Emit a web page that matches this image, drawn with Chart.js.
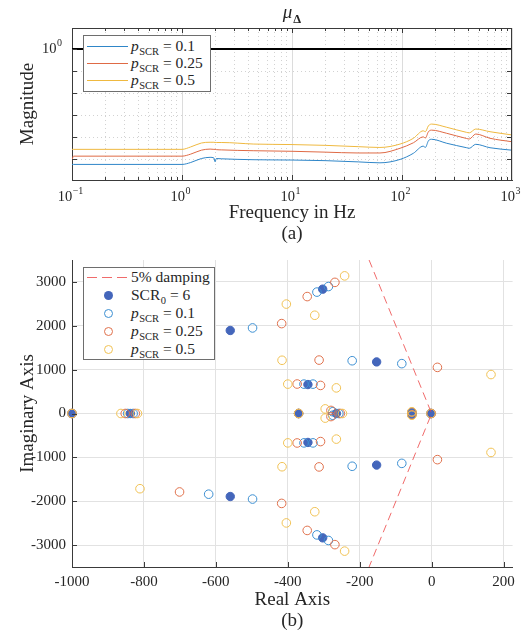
<!DOCTYPE html>
<html>
<head>
<meta charset="utf-8">
<script src="https://cdn.jsdelivr.net/npm/chart.js@4.4.1/dist/chart.umd.min.js"></script>
<style>
html,body{margin:0;padding:0;background:#fff}
body{position:relative;width:521px;height:634px;overflow:hidden;font-family:"Liberation Serif","DejaVu Serif",serif;color:#262626}
canvas{position:absolute;left:0}
#c1{top:0}
#c2{top:245px}
.legend{position:absolute;background:#fff;border:1px solid #6e6e6e;box-sizing:border-box}
.row{position:absolute;left:0;right:0;height:18px}
.ln{position:absolute;left:3px;width:41px;top:9px;height:1px}
.mk{position:absolute;left:20px;top:4.5px;width:9px;height:9px;border-radius:50%;box-sizing:border-box}
.lbl{position:absolute;left:47px;top:0;line-height:18px;font-size:15.5px;white-space:nowrap}
.sub{font-size:10.5px;position:relative;top:4px;margin-left:0.5px}
#title{position:absolute;left:0;width:584px;top:2px;text-align:center;font-size:19px;line-height:20px}
#title .d{font-weight:bold;font-size:12.5px;position:relative;top:5px;margin-left:1px}
</style>
</head>
<body>
<canvas id="c1" width="521" height="245"></canvas>
<canvas id="c2" width="521" height="389"></canvas>
<div id="title"><i>μ</i><span class="d">Δ</span></div>
<div id="leg1" class="legend" style="left:83px;top:35px;width:128px;height:57px"></div>
<div id="leg2" class="legend" style="left:83px;top:267px;width:132px;height:93px"></div>
<script>
// ===================== (a) structured singular value =====================
const freqHz  = [0.1, 0.103, 1, 1.2, 1.5, 1.8, 1.95, 2.0, 2.05, 2.3, 4.5, 10, 20, 40, 63, 96, 127, 156, 163, 174, 186, 255, 387, 409, 468, 631, 1000];
const muP01   = [0.299,0.299,0.299,0.305,0.318,0.322,0.320,0.307,0.318,0.317,0.314,0.313,0.311,0.307,0.304,0.315,0.336,0.362,0.357,0.383,0.389,0.373,0.356,0.354,0.369,0.356,0.347];
const muP025  = [0.312,0.326,0.326,0.333,0.347,0.351,0.350,0.350,0.349,0.348,0.345,0.343,0.340,0.337,0.337,0.354,0.375,0.399,0.394,0.421,0.428,0.414,0.392,0.390,0.411,0.393,0.379];
const muP05   = [0.350,0.350,0.350,0.359,0.374,0.377,0.377,0.376,0.376,0.376,0.370,0.368,0.365,0.360,0.357,0.370,0.393,0.425,0.421,0.448,0.456,0.441,0.418,0.416,0.433,0.421,0.407];
const limitFreq = [0.1, 1000];
const limitMag  = [1, 1];
const pLabels   = ['0.1', '0.25', '0.5'];
const freqExps  = [-1, 0, 1, 2, 3];
const freqMinorMult = [2, 3, 4, 5, 6, 7, 8, 9];
const magTicks  = [0.316, 0.398, 0.501, 0.631, 0.794, 1];
const magLimits = [0.254, 1.246];

// ===================== (b) pole map =====================
const dampRe = [-174, 0, -174];
const dampIm = [3500, 0, -3500];
const scr0Re = [-1000, -838, -560, -560, -303, -303, -153, -153, -344, -344, -370, -265, -55, -55, -2];
const scr0Im = [0, 0, 1893, -1893, 2835, -2835, 1176, -1176, 660, -660, 0, 0, 15, -15, 0];
const p01Re  = [-1000, -845, -830, -620, -620, -498, -498, -319, -319, -287, -287, -221, -221, -83, -83, -355, -355, -330, -330, -370, -275, -275, -258, -55, -55, -2];
const p01Im  = [0, 0, 0, 1840, -1840, 1951, -1951, 2768, -2768, 2895, -2895, 1203, -1203, 1137, -1137, 670, -670, 670, -670, 0, 40, -40, 0, 20, -20, 0];
const p025Re = [-1000, -852, -824, -701, -701, -417, -417, -346, -346, -269, -269, -313, -313, 16, 16, -374, -374, -309, -309, -370, -280, -280, -254, -55, -55, -1];
const p025Im = [0, 0, 0, 1789, -1789, 2050, -2050, 2666, -2666, 2990, -2990, 1218, -1218, 1052, -1052, 672, -672, 640, -640, 0, 70, -70, 0, 28, -28, 0];
const p05Re  = [-1000, -864, -818, -811, -811, -325, -325, -404, -404, -242, -242, -416, -416, 165, 165, -400, -400, -265, -265, -370, -296, -296, -248, -55, -55, -2];
const p05Im  = [0, 0, 0, 1715, -1715, 2240, -2240, 2495, -2495, 3138, -3138, 1214, -1214, 888, -888, 670, -670, 584, -584, 0, 105, -105, 0, 40, -40, 0];
const reTicks = [-1000, -800, -600, -400, -200, 0, 200];
const imTicks = [-3000, -2000, -1000, 0, 1000, 2000, 3000];
const reLimits = [-1000, 225];
const imLimits = [-3500, 3500];
const dampLabel = '5% damping';
const scr0Value = '6';

// ===================== styling =====================
const FONT = '"Liberation Serif", "DejaVu Serif", serif';
const AXIS = '#3a3a3a', TEXT = '#262626';
const LINE_COLORS = ['#2f86c8', '#df6a45', '#efb940'];
const MARK_COLORS = ['#3c8fd2', '#e0714c', '#f1c254'];
const FILL_COLOR = '#4466bb';
const DAMP_COLOR = 'rgba(236,70,70,0.8)';
const MINOR_GRID = '#d2d2d2', MAJOR_GRID = '#dcdcdc';

const isPow10 = v => Math.abs(Math.log10(v) - Math.round(Math.log10(v))) < 1e-6;
const xy = (xs, ys) => xs.map((x, i) => ({x: x, y: ys[i]}));

// frame / inward tick plugin
const frame = {
  id: 'frame',
  afterDraw(chart, args, o) {
    const {ctx, chartArea: a} = chart;
    const xs = chart.scales.x, ys = chart.scales.y;
    ctx.save();
    ctx.strokeStyle = AXIS; ctx.lineWidth = 1;
    ctx.beginPath();
    if (o.box) {
      ctx.moveTo(a.left, Math.round(a.top) + 0.5); ctx.lineTo(a.right, Math.round(a.top) + 0.5);
      ctx.moveTo(Math.round(a.right) - 0.5, a.top); ctx.lineTo(Math.round(a.right) - 0.5, a.bottom);
    }
    xs.ticks.forEach(t => {
      const px = Math.round(xs.getPixelForValue(t.value)) + 0.5;
      if (px < a.left + 1 || px > a.right - 1) return;
      const len = (o.box && !isPow10(t.value)) ? 3 : 5;
      ctx.moveTo(px, a.bottom); ctx.lineTo(px, a.bottom - len);
      if (o.box) { ctx.moveTo(px, a.top); ctx.lineTo(px, a.top + len); }
    });
    ys.ticks.forEach(t => {
      const py = Math.round(ys.getPixelForValue(t.value)) + 0.5;
      if (py < a.top + 1 || py > a.bottom - 1) return;
      ctx.moveTo(a.left, py); ctx.lineTo(a.left + 5, py);
      if (o.box) { ctx.moveTo(a.right, py); ctx.lineTo(a.right - 5, py); }
    });
    ctx.stroke();
    ctx.restore();
  }
};

function drawPow(ctx, exp, x, y, align) {
  const base = '10', sup = exp < 0 ? '\u2212' + (-exp) : String(exp);
  ctx.font = '14.5px ' + FONT; const wb = ctx.measureText(base).width;
  ctx.font = '10px ' + FONT; const ws = ctx.measureText(sup).width;
  const total = wb + 0.5 + ws;
  const x0 = align === 'center' ? x - total / 2 - 1.5 : (align === 'right' ? x - total : x);
  ctx.textAlign = 'left'; ctx.textBaseline = 'middle';
  ctx.font = '14.5px ' + FONT; ctx.fillText(base, x0, y);
  ctx.font = '10px ' + FONT; ctx.fillText(sup, x0 + wb + 0.5, y - 6);
}

const expLabels = {
  id: 'expLabels',
  afterDraw(chart) {
    const {ctx, chartArea: a} = chart;
    const xs = chart.scales.x, ys = chart.scales.y;
    ctx.save(); ctx.fillStyle = TEXT;
    freqExps.forEach(e => drawPow(ctx, e, xs.getPixelForValue(Math.pow(10, e)), a.bottom + 17, 'center'));
    drawPow(ctx, 0, a.left - 10, ys.getPixelForValue(1), 'right');
    ctx.restore();
  }
};

// ---------- chart (a) ----------
const freqTickVals = [];
freqExps.forEach((e, i) => {
  freqTickVals.push(Math.pow(10, e));
  if (i < freqExps.length - 1) freqMinorMult.forEach(m => freqTickVals.push(m * Math.pow(10, e)));
});
const muSeries = [muP01, muP025, muP05];

new Chart(document.getElementById('c1'), {
  type: 'line',
  data: {
    datasets: [
      {data: xy(limitFreq, limitMag), borderColor: '#000', borderWidth: 2, pointRadius: 0},
      ...muSeries.map((s, i) => ({
        data: xy(freqHz, s), borderColor: LINE_COLORS[i], borderWidth: 1, pointRadius: 0,
        cubicInterpolationMode: 'monotone'
      }))
    ]
  },
  options: {
    responsive: false, animation: false, events: [],
    layout: {padding: {left: 0, right: 9, top: 28, bottom: 0}},
    plugins: {legend: {display: false}, tooltip: {enabled: false}, frame: {box: true}},
    scales: {
      x: {
        type: 'logarithmic', min: limitFreq[0], max: limitFreq[1],
        afterBuildTicks: s => { s.ticks = freqTickVals.map(v => ({value: v, major: isPow10(v)})); },
        afterFit: s => { s.height = 65; },
        ticks: {display: false},
        grid: {drawTicks: false, color: c => (c.tick && isPow10(c.tick.value)) ? MAJOR_GRID : MINOR_GRID},
        border: {color: AXIS, dash: c => (c.tick && !isPow10(c.tick.value)) ? [1, 3] : []},
        title: {display: true, text: ['Frequency in Hz', '(a)'], color: TEXT,
          font: {family: FONT, size: 19, lineHeight: '21px'}, padding: {top: 0, bottom: 0}}
      },
      y: {
        type: 'logarithmic', min: magLimits[0], max: magLimits[1],
        afterBuildTicks: s => { s.ticks = magTicks.map(v => ({value: v})); },
        afterFit: s => { s.width = 72; },
        ticks: {display: false},
        grid: {drawTicks: false, color: c => (c.tick && c.tick.value === 1) ? MAJOR_GRID : MINOR_GRID},
        border: {color: AXIS, dash: c => (c.tick && c.tick.value !== 1) ? [1, 3] : []},
        title: {display: true, text: 'Magnitude', color: TEXT,
          font: {family: FONT, size: 19, lineHeight: '21px'}, padding: {top: 17.5, bottom: 0}}
      }
    }
  },
  plugins: [frame, expLabels]
});

// ---------- chart (b) ----------
const poleSets = [
  {re: p05Re, im: p05Im, color: MARK_COLORS[2]},
  {re: p025Re, im: p025Im, color: MARK_COLORS[1]},
  {re: p01Re, im: p01Im, color: MARK_COLORS[0]}
];
new Chart(document.getElementById('c2'), {
  type: 'scatter',
  data: {
    datasets: [
      {data: xy(dampRe, dampIm), showLine: true, borderColor: DAMP_COLOR, borderWidth: 1,
        borderDash: [8, 5], pointRadius: 0, fill: false},
      ...poleSets.map(p => ({
        data: xy(p.re, p.im), pointRadius: 4.3, pointBorderWidth: 1, borderColor: p.color,
        backgroundColor: 'rgba(0,0,0,0)', pointBackgroundColor: 'rgba(0,0,0,0)', clip: false
      })),
      {data: xy(scr0Re, scr0Im), pointRadius: 4.2, pointBorderWidth: 1, borderColor: FILL_COLOR,
        backgroundColor: FILL_COLOR, clip: false}
    ]
  },
  options: {
    responsive: false, animation: false, events: [],
    layout: {padding: {left: 0, right: 8, top: 11, bottom: 0}},
    plugins: {legend: {display: false}, tooltip: {enabled: false}, frame: {box: false}},
    scales: {
      x: {
        type: 'linear', min: reLimits[0], max: reLimits[1],
        afterBuildTicks: s => { s.ticks = reTicks.map(v => ({value: v})); },
        afterFit: s => { s.height = 67; },
        ticks: {color: TEXT, font: {family: FONT, size: 15}, padding: 6, maxRotation: 0, callback: v => String(v)},
        grid: {drawTicks: false, color: '#e2e2e2'},
        border: {color: AXIS},
        title: {display: true, text: ['Real Axis', '(b)'], color: TEXT,
          font: {family: FONT, size: 19, lineHeight: '21px'}, padding: {top: 0, bottom: 2}}
      },
      y: {
        type: 'linear', min: imLimits[0], max: imLimits[1],
        afterBuildTicks: s => { s.ticks = imTicks.map(v => ({value: v})); },
        afterFit: s => { s.width = 72; },
        ticks: {color: TEXT, font: {family: FONT, size: 15}, padding: 6, callback: v => String(v)},
        grid: {drawTicks: false, color: '#e2e2e2'},
        border: {color: AXIS},
        title: {display: true, text: 'Imaginary Axis', color: TEXT,
          font: {family: FONT, size: 19, lineHeight: '21px'}, padding: {top: 17.5, bottom: 0}}
      }
    }
  },
  plugins: [frame]
});

// ---------- legends (HTML, for sub-scripts) ----------
const pLbl = v => '<i>p</i><span class="sub">SCR</span> = ' + v;
const leg1 = document.getElementById('leg1');
const leg1Centers = [10.3, 27.2, 43.7];
pLabels.forEach((v, i) => {
  leg1.insertAdjacentHTML('beforeend',
    '<div class="row" style="top:' + (leg1Centers[i] - 9) + 'px"><div class="ln" style="background:' + LINE_COLORS[i] +
    '"></div><div class="lbl">' + pLbl(v) + '</div></div>');
});
const leg2 = document.getElementById('leg2');
const leg2Centers = [8.7, 27, 45.3, 63, 81.3];
const leg2Items = [
  {sample: '<div class="ln" style="background:repeating-linear-gradient(to right,' + DAMP_COLOR + ' 0 10px,transparent 10px 15px)"></div>', text: dampLabel},
  {sample: '<div class="mk" style="background:' + FILL_COLOR + '"></div>', text: 'SCR<span class="sub">0</span> = ' + scr0Value},
  ...pLabels.map((v, i) => ({sample: '<div class="mk" style="border:1px solid ' + MARK_COLORS[i] + '"></div>', text: pLbl(v)}))
];
leg2Items.forEach((it, i) => {
  leg2.insertAdjacentHTML('beforeend',
    '<div class="row" style="top:' + (leg2Centers[i] - 9) + 'px">' + it.sample + '<div class="lbl">' + it.text + '</div></div>');
});
</script>
</body>
</html>
